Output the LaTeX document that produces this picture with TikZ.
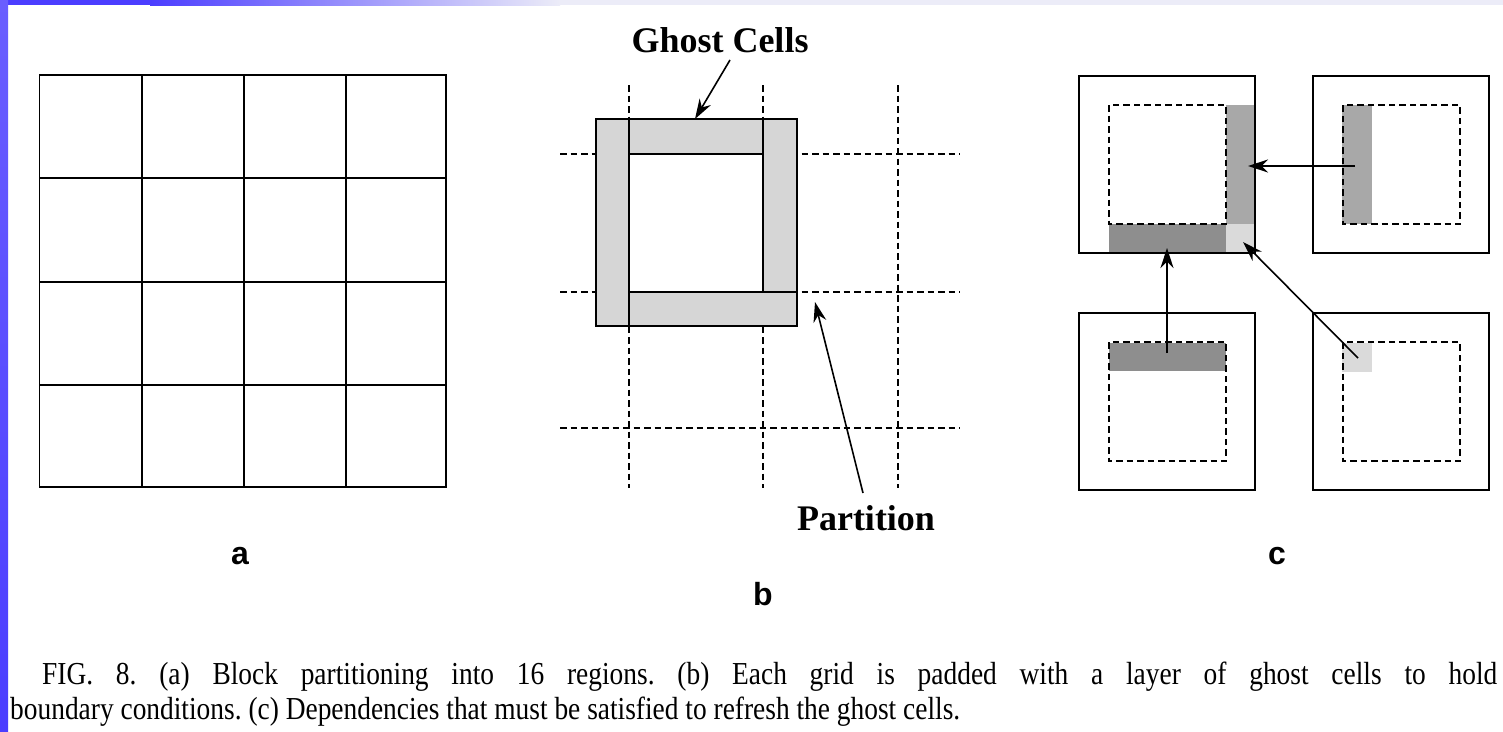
\documentclass[tikz,border=0pt]{standalone}
\usepackage{fontspec}
\setmainfont{Liberation Serif}
\newfontfamily\labfont{Liberation Sans}
\usetikzlibrary{arrows.meta}
\definecolor{bandblue}{HTML}{4B3DFF}
\definecolor{bandtop}{HTML}{6A5EFF}
\definecolor{lav}{HTML}{ECECF8}
\definecolor{ghostgray}{HTML}{D6D6D6}
\definecolor{midgray}{HTML}{A8A8A8}
\definecolor{darkgrayc}{HTML}{8E8E8E}
\definecolor{lightgrayc}{HTML}{DADADA}
\newsavebox\capboxB
\begin{document}
\frenchspacing
\sbox\capboxB{\fontsize{32}{36}\selectfont boundary conditions. (c) Dependencies that must be satisfied to refresh the ghost cells.}
\pgfmathsetmacro\capfac{950/(\wd\capboxB)}
\pgfmathsetmacro\capwidth{1455/\capfac}
\begin{tikzpicture}[x=1pt,y=-1pt,
  solidline/.style={line width=1.7pt,black},
  dashline/.style={line width=1.4pt,dash pattern=on 6.5pt off 4pt},
  ptr/.style={line width=1.6pt,-{Stealth[length=20pt,width=13pt]}},
  biglabel/.style={font=\fontsize{36}{40}\selectfont\bfseries,inner sep=0pt},
  panellabel/.style={font=\labfont\fontsize{32}{36}\selectfont\bfseries,inner sep=0pt},
  captext/.style={font=\fontsize{32}{36}\selectfont,inner sep=0pt,anchor=base west}]
\useasboundingbox (0,0) rectangle (1503,731);
\fill[white] (0,0) rectangle (1503,731);
% top and left bands
\fill[lav] (560,0) rectangle (1503,5);
\shade[left color=bandblue,right color=lav] (150,0) rectangle (560,5);
\fill[bandblue] (0,0) rectangle (150,5);
\shade[top color=bandtop,bottom color=bandblue] (0,0) rectangle (8,731);

% ---------- panel a ----------
\draw[solidline] (39.5,75) rectangle (446,487);
\foreach \x in {141.7,243.7,346} \draw[solidline] (\x,75) -- (\x,487);
\foreach \y in {178,281.7,385} \draw[solidline] (39.5,\y) -- (446,\y);
\node[panellabel] (la) at (240,556) {a};

% ---------- panel b ----------
\foreach \x in {629,763,898} \draw[dashline] (\x,85) -- (\x,488);
\foreach \y in {154,292,428} \draw[dashline] (560,\y) -- (960,\y);
\fill[ghostgray] (596,119) rectangle (797,326);
\fill[white] (629,154) rectangle (763,292);
\draw[solidline] (596,119) rectangle (797,326);
\draw[solidline] (629,119) -- (629,326);
\draw[solidline] (763,119) -- (763,292);
\draw[solidline] (629,154) -- (763,154);
\draw[solidline] (629,292) -- (797,292);
\node[biglabel] (gc) at (720,40) {Ghost Cells};
\coordinate (gcs) at (730,60);
\coordinate (gct) at (695,119);
\draw[ptr] (gcs) -- (gct);
\node[biglabel] (pt) at (866,518) {Partition};
\coordinate (pts) at (863,493);
\coordinate (ptt) at (815,302);
\draw[ptr] (pts) -- (ptt);
\node[panellabel] (lb) at (763,594) {b};

% ---------- panel c ----------
\fill[midgray] (1226,105) rectangle (1255,224);
\fill[darkgrayc] (1109,224) rectangle (1226,253);
\fill[lightgrayc] (1226,224) rectangle (1255,253);
\fill[midgray] (1342,105) rectangle (1372,224);
\fill[darkgrayc] (1109,343) rectangle (1226,371);
\fill[lightgrayc] (1342,343) rectangle (1372,372);
\foreach \bx/\by in {1079/76,1313/76,1079/313,1313/313}{
  \draw[dashline] (\bx+30,\by+29) rectangle (\bx+147,\by+148);
  \draw[solidline] (\bx,\by) rectangle (\bx+176,\by+177);
}
\coordinate (trs) at (1355,166);
\coordinate (trt) at (1248,166);
\coordinate (bls) at (1167,353);
\coordinate (blt) at (1167,248);
\coordinate (brs) at (1358,358);
\coordinate (brt) at (1243,242);
\draw[ptr] (trs) -- (trt);
\draw[ptr] (bls) -- (blt);
\draw[ptr] (brs) -- (brt);
\node[panellabel] (lc) at (1277,556) {c};

% ---------- caption ----------
\node[captext] (cap1) at (42,684) {\scalebox{\capfac}[1]{\makebox[\capwidth pt][s]{FIG. 8. (a) Block partitioning into 16 regions. (b) Each grid is padded with a layer of ghost cells to hold}}};
\node[captext] (cap2) at (10,719) {\scalebox{\capfac}[1]{\usebox\capboxB}};
\end{tikzpicture}
\end{document}
